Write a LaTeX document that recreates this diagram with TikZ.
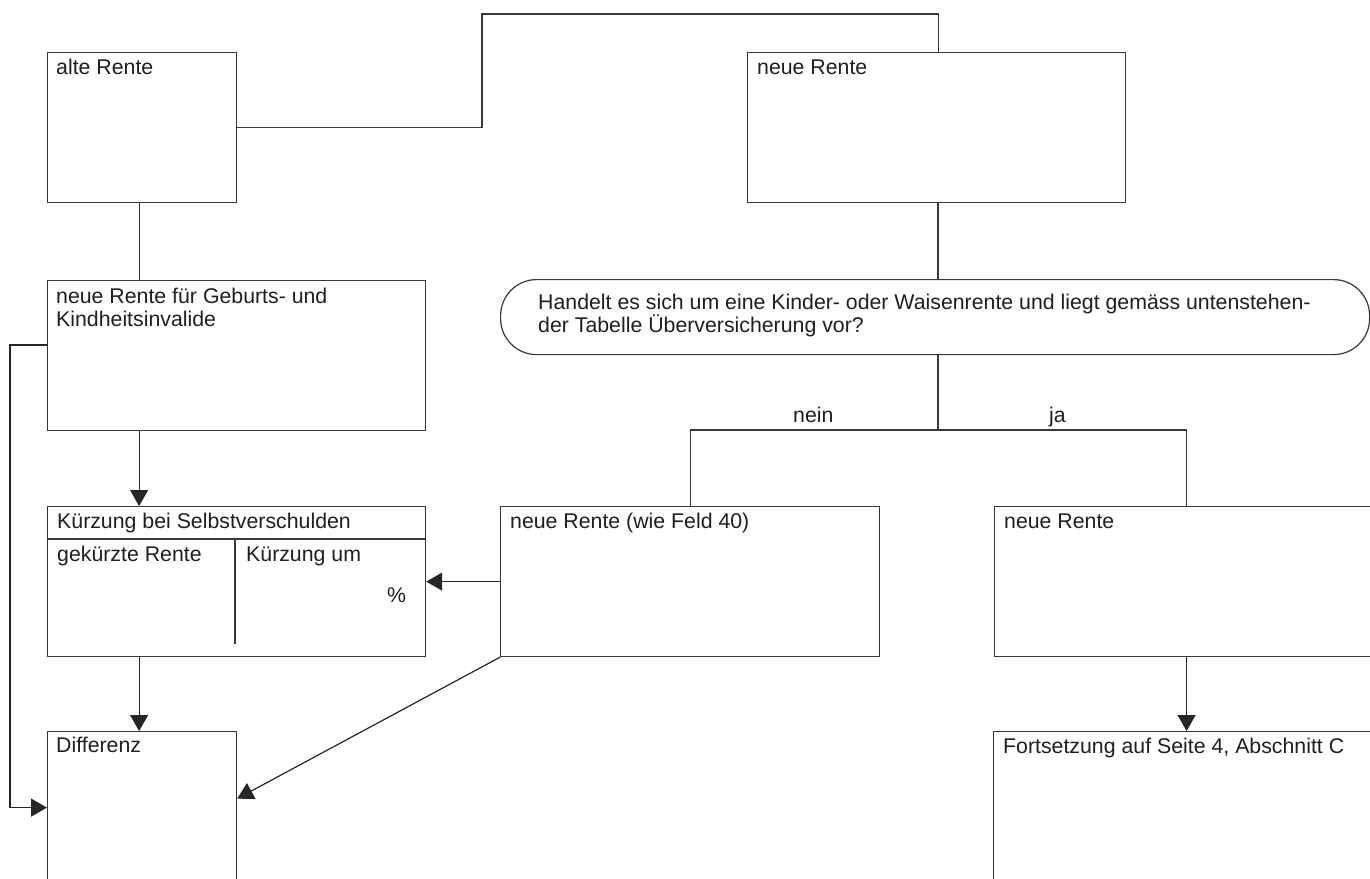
\documentclass[tikz,border=0pt]{standalone}
\usepackage{fontspec}
\setmainfont{Liberation Sans}
\usetikzlibrary{arrows.meta,calc}
\begin{document}
\begin{tikzpicture}[x=1pt,y=-1pt,
  ln/.style={draw=black!78, line width=1.2pt},
  box/.style={ln, rectangle, inner sep=0pt, anchor=north west},
  arr/.style={ln, draw=black!85, -{Triangle[length=16pt,width=18pt]}},
  txt/.style={anchor=base west, inner sep=0pt, align=left, text=black!88,
    font=\fontsize{21.3}{23}\selectfont}]
\clip (0,0) rectangle (1370,878);
\fill[white] (0,0) rectangle (1370,878);
% boxes
\node[box, minimum width=189pt, minimum height=150pt] (alt) at (47,52) {};
\node[box, minimum width=378pt, minimum height=150pt] (neu) at (747,52) {};
\node[box, minimum width=378pt, minimum height=150pt] (geb) at (47,280) {};
\node[box, rounded corners=36pt, minimum width=869pt, minimum height=75pt] (frage) at (500,279) {};
\node[box, minimum width=378pt, minimum height=150pt] (kurz) at (47,506) {};
\node[box, minimum width=379pt, minimum height=150pt] (neu40) at (500,506) {};
\node[box, minimum width=384pt, minimum height=150pt] (neuR) at (994,506) {};
\node[box, minimum width=189pt, minimum height=152pt] (diff) at (47,731) {};
\node[box, minimum width=386pt, minimum height=152pt] (fort) at (993,731) {};
% inner lines of Kuerzung box
\draw[ln] ([yshift=-33pt]kurz.north west) -- ([yshift=-33pt]kurz.north east);
\draw[ln] ([xshift=188pt,yshift=-33pt]kurz.north west) -- ([xshift=188pt,yshift=-138pt]kurz.north west);
% texts
\node[txt] (t1) at (56,74) {alte Rente};
\node[txt] (t2) at (757,74) {neue Rente};
\node[txt] (t3) at (56,326) {neue Rente für Geburts- und\\Kindheitsinvalide};
\node[txt] (t4) at (538,332) {Handelt es sich um eine Kinder- oder Waisenrente und liegt gemäss untenstehen-\\der Tabelle Überversicherung vor?};
\node[txt] (t5) at (57,528) {Kürzung bei Selbstverschulden};
\node[txt] (t6) at (57,561) {gekürzte Rente};
\node[txt] (t7) at (246,561) {Kürzung um};
\node[txt] (t8) at (387,602) {\%};
\node[txt] (t9) at (510,528) {neue Rente (wie Feld 40)};
\node[txt] (t10) at (1004,528) {neue Rente};
\node[txt] (t11) at (56,752) {Differenz};
\node[txt] (t12) at (1003,753) {Fortsetzung auf Seite 4, Abschnitt C};
\node[txt] (nein) at (793,422) {nein};
\node[txt] (ja) at (1049,422) {ja};
% connectors
\coordinate (top) at (482,14);
\draw[ln] (alt.east) -| (top) -| ([xshift=2pt]neu.north);
\draw[ln] ([xshift=-3pt]alt.south) -- ([xshift=-3pt]alt.south |- geb.north);
\draw[arr] ([xshift=-3pt]alt.south |- geb.south) -- ([xshift=-3pt]alt.south |- kurz.north);
\draw[arr] ([xshift=-3pt]alt.south |- kurz.south) -- ([xshift=-3pt]alt.south |- diff.north);
\coordinate (lb) at (10,345);
\draw[arr] (geb.west |- lb) -- (lb) |- (diff.west);
\coordinate (split) at (938,430);
\draw[ln] (split |- neu.south) -- (split |- frage.north);
\draw[ln] (split |- frage.south) -- (split);
\draw[ln] (neu40.north) |- (split) -| (neuR.north);
\draw[arr] (neu40.west) -- (neu40.west -| kurz.east);
\draw[arr] (neu40.south west) -- ([yshift=9pt]diff.east);
\draw[arr] (neuR.south) -- (neuR.south |- fort.north);
\end{tikzpicture}
\end{document}
